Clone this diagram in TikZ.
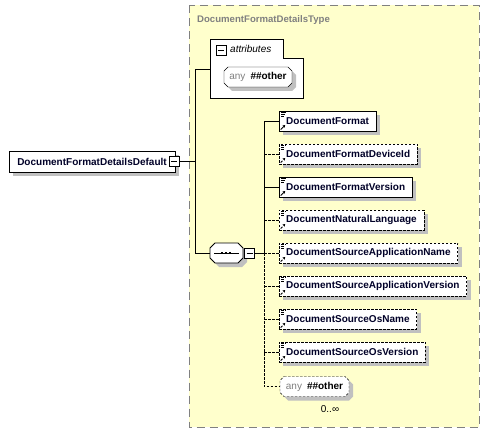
\documentclass[tikz,border=0pt]{standalone}
\usepackage{fontspec}
\setmainfont{Liberation Sans}
\usetikzlibrary{shadows,arrows.meta}
\definecolor{typefill}{RGB}{255,255,204}
\definecolor{typeborder}{RGB}{128,128,128}
\definecolor{shadowgray}{RGB}{192,192,192}
\definecolor{nametext}{RGB}{0,0,40}

% octagon frame with shadow: [style]{x,y}{width}{height}{cut}
\newcommand{\octo}[5][]{%
  \fill[shadowgray, shift={(#2)}, shift={(4,4)}] (#5,0) -- (#3-#5,0) -- (#3,#5) -- (#3,#4-#5) -- (#3-#5,#4) -- (#5,#4) -- (0,#4-#5) -- (0,#5) -- cycle;
  \draw[fill=white, shift={(#2)}, #1] (#5,0) -- (#3-#5,0) -- (#3,#5) -- (#3,#4-#5) -- (#3-#5,#4) -- (#5,#4) -- (0,#4-#5) -- (0,#5) -- cycle;
}

\begin{document}
\begin{tikzpicture}[x=1pt, y=-1pt]

\tikzstyle{shade}=[drop shadow={shadow xshift=4pt, shadow yshift=-4pt, fill=shadowgray, opacity=1}]
\tikzstyle{typeframe}=[draw=typeborder, fill=typefill, dash pattern=on 8pt off 5pt]
\tikzstyle{title}=[anchor=west, inner sep=0pt, text=typeborder, font=\fontsize{9.6}{12}\selectfont\bfseries]
\tikzstyle{elemicon}=[path picture={
  \draw[line width=0.7pt] ([shift={(2,1.5)}]path picture bounding box.north west) -- ++(5,0);
  \draw[line width=0.7pt] ([shift={(2,3.5)}]path picture bounding box.north west) -- ++(4,0);
  \draw[line width=0.7pt] ([shift={(2,5.5)}]path picture bounding box.north west) -- ++(3,0);
  \draw[line width=0.9pt, -{Stealth[length=2.5pt, width=3pt]}] ([shift={(1.5,-1.5)}]path picture bounding box.south west) -- ++(4.5,-4.5);
}]
\tikzstyle{elemreq}=[rectangle, draw, fill=white, shade, elemicon, anchor=west, minimum height=20pt, inner xsep=7pt, inner ysep=0pt, text=nametext, font=\fontsize{10}{12}\selectfont\bfseries]
\tikzstyle{elemopt}=[elemreq, dash pattern=on 2.5pt off 1.5pt]
\tikzstyle{rootbox}=[rectangle, draw, fill=white, shade, minimum height=21pt, inner xsep=8pt, inner ysep=0pt, text=nametext, font=\fontsize{10}{12}\selectfont\bfseries]
\tikzstyle{anytext}=[rectangle, inner sep=0pt, minimum height=20pt, font=\fontsize{10}{12}\selectfont]
\tikzstyle{collapse}=[rectangle, draw, line width=0.9pt, fill=white, minimum size=10pt, inner sep=0pt, path picture={
  \draw[line width=0.9pt] ([xshift=2pt]path picture bounding box.west) -- ([xshift=-2pt]path picture bounding box.east);
}]
\tikzstyle{optline}=[dash pattern=on 2.5pt off 1.5pt]

\useasboundingbox (0,0) rectangle (490,433);

% complex type frame
\draw[typeframe] (189,5.5) rectangle (479,427);
\node[title] (typename) at (197,20) {DocumentFormatDetailsType};

% root element
\node[rootbox] (root) at (92,161.5) {DocumentFormatDetailsDefault};
\node[collapse] (rootminus) at (174,161.5) {};

% attributes group
\draw[fill=white] (210,39) -- (283,39) -- (283,58) -- (303,58) -- (303,98) -- (210,98) -- cycle;
\coordinate (attrin) at (210,69);
\node[collapse, line width=0.8pt] (attrminus) at (221,50) {};
\node[anchor=west, inner sep=0pt, font=\fontsize{10}{12}\selectfont\itshape] (attrlabel) at (230,49) {attributes};
\octo{224,67}{68}{20}{4}
\node[anytext, minimum width=68pt] (anyattr) at (258,77) {\textcolor{typeborder}{any}\hspace{5pt}\textbf{\#\#other}};

% sequence compositor
\octo[line width=0.8pt]{210,243}{33}{20}{5}
\node[rectangle, inner sep=0pt, minimum width=33pt, minimum height=20pt] (seq) at (226.5,253) {};
\draw[line width=0.9pt] ([xshift=4.5pt]seq.west) -- ([xshift=-4.5pt]seq.east);
\fill (221,252) rectangle ++(2.4,2.4);
\fill (225,252) rectangle ++(2.4,2.4);
\fill (229,252) rectangle ++(2.4,2.4);
\node[collapse] (seqminus) at (249.5,253) {};

% child elements
\node[elemreq] (docformat)  at (279,121) {DocumentFormat};
\node[elemopt] (deviceid)   at (279,154) {DocumentFormatDeviceId};
\node[elemreq] (docversion) at (279,187) {DocumentFormatVersion};
\node[elemopt] (natlang)    at (279,220) {DocumentNaturalLanguage};
\node[elemopt] (appname)    at (279,253) {DocumentSourceApplicationName};
\node[elemopt] (appversion) at (279,286) {DocumentSourceApplicationVersion};
\node[elemopt] (osname)     at (279,319) {DocumentSourceOsName};
\node[elemopt] (osversion)  at (279,352) {DocumentSourceOsVersion};
\octo[optline]{280,376.5}{69}{20}{4}
\node[anytext, minimum width=69pt] (anyelem) at (314.5,386.5) {\textcolor{typeborder}{any}\hspace{5pt}\textbf{\#\#other}};
\node[font=\fontsize{10}{12}\selectfont, inner sep=0pt] (anycount) at (330,409) {0..∞};

% connectors
\coordinate (rootjoin) at (195,161.5);
\coordinate (seqjoin) at (264,253);
\draw (rootminus.east) -- (rootjoin);
\draw (rootjoin) |- (attrin);
\draw (rootjoin) |- (seq.west);
\draw (seqminus.east) -- (seqjoin);
\draw (seqjoin) |- (docformat.west);
\draw (seqjoin) |- (docversion.west);
\draw[optline] (seqjoin |- deviceid.west) -- (deviceid.west);
\draw[optline] (seqjoin |- natlang.west) -- (natlang.west);
\draw[optline] (seqjoin) -- (appname.west);
\draw[optline] (seqjoin) |- (anyelem.west);
\draw[optline] (seqjoin |- appversion.west) -- (appversion.west);
\draw[optline] (seqjoin |- osname.west) -- (osname.west);
\draw[optline] (seqjoin |- osversion.west) -- (osversion.west);

\end{tikzpicture}
\end{document}
